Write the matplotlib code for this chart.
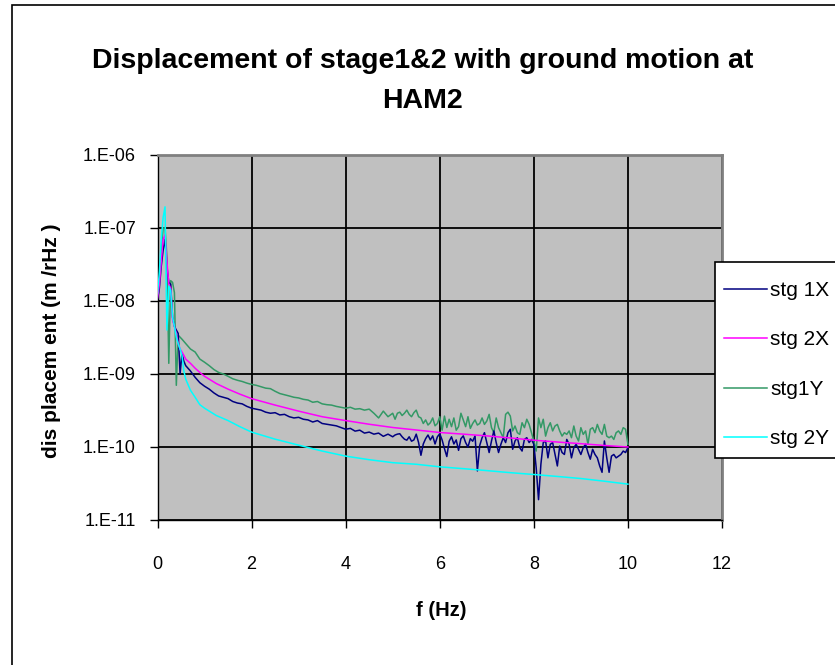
import numpy as np
import matplotlib
matplotlib.use("Agg")
import matplotlib.pyplot as plt
from matplotlib.patches import Rectangle
from matplotlib.ticker import FixedLocator, FuncFormatter

# frequency grids (Hz)
freq_fine = [0.0, 0.04, 0.08, 0.12, 0.16, 0.2, 0.24, 0.28, 0.32, 0.36, 0.4, 0.44, 0.48, 0.52, 0.56, 0.6,
             0.7, 0.8, 0.9, 1.0, 1.1, 1.2, 1.3, 1.4, 1.5, 1.6, 1.7, 1.8, 1.9, 2.0, 2.1, 2.2, 2.3, 2.4,
             2.5, 2.6, 2.7, 2.8, 2.9, 3.0, 3.1, 3.2, 3.3, 3.4, 3.5, 3.6, 3.7, 3.8, 3.9, 4.0, 4.1, 4.2,
             4.3, 4.4, 4.5, 4.6, 4.7, 4.8, 4.9,
             5.0, 5.05, 5.1, 5.15, 5.2, 5.25, 5.3, 5.35, 5.4, 5.45, 5.5, 5.55, 5.6, 5.65, 5.7, 5.75,
             5.8, 5.85, 5.9, 5.95, 6.0, 6.05, 6.1, 6.15, 6.2, 6.25, 6.3, 6.35, 6.4, 6.45, 6.5, 6.55,
             6.6, 6.65, 6.7, 6.75, 6.8, 6.85, 6.9, 6.95, 7.0, 7.05, 7.1, 7.15, 7.2, 7.25, 7.3, 7.35,
             7.4, 7.45, 7.5, 7.55, 7.6, 7.65, 7.7, 7.75, 7.8, 7.85, 7.9, 7.95, 8.0, 8.05, 8.1, 8.15,
             8.2, 8.25, 8.3, 8.35, 8.4, 8.45, 8.5, 8.55, 8.6, 8.65, 8.7, 8.75, 8.8, 8.85, 8.9, 8.95,
             9.0, 9.05, 9.1, 9.15, 9.2, 9.25, 9.3, 9.35, 9.4, 9.45, 9.5, 9.55, 9.6, 9.65, 9.7, 9.75,
             9.8, 9.85, 9.9, 9.95, 10.0]
freq_coarse = [0.0, 0.04, 0.08, 0.12, 0.16, 0.2, 0.24, 0.28, 0.32, 0.36, 0.4, 0.44, 0.48, 0.52, 0.56, 0.6,
               0.7, 0.8, 0.9, 1.0, 1.25, 1.5, 1.75, 2.0, 2.5, 3.0, 3.5, 4.0, 4.5, 5.0, 5.5, 6.0, 6.5,
               7.0, 7.5, 8.0, 8.5, 9.0, 9.5, 10.0]

# displacement, in units of 1e-10 m/rHz
unit = 1e-10
stg1x = [105, 150, 300, 500, 700, 300, 180, 170, 60, 45, 40, 36, 10, 19, 15, 13,
         11, 9.0, 7.6, 6.8, 6.2, 5.5, 5.0, 4.8, 4.6, 4.2, 4.0, 3.9, 3.6, 3.4, 3.3, 3.2, 3.0, 2.9,
         2.95, 2.75, 2.8, 2.6, 2.5, 2.55, 2.4, 2.35, 2.2, 2.3, 2.1, 2.05, 2.0, 1.95, 1.85, 1.75, 1.8,
         1.65, 1.7, 1.55, 1.6, 1.5, 1.55, 1.4, 1.5,
         1.38, 1.46, 1.5, 1.52, 1.38, 1.28, 1.24, 1.38, 1.2, 1.25, 1.5, 1.15, 0.77, 1.1, 1.3, 1.46,
         1.25, 1.42, 1.1, 1.38, 1.52, 1.25, 0.95, 0.74, 1.2, 1.38, 1.1, 1.25, 0.9, 1.3, 1.42, 1.15,
         1.0, 1.3, 1.2, 1.42, 0.47, 1.05, 1.34, 1.57, 1.15, 0.84, 1.21, 1.66, 1.15, 0.84, 1.09, 1.34,
         1.15, 1.57, 1.75, 0.93, 1.21, 1.34, 0.98, 0.88, 1.27, 1.34, 1.15, 1.27, 1.09, 0.52, 0.19, 0.58,
         1.15, 1.21, 0.71, 1.09, 1.15, 0.79, 0.55, 1.03, 0.84, 0.79, 1.27, 1.09, 0.71, 0.98, 1.09, 0.93,
         0.79, 0.98, 1.09, 0.84, 0.68, 0.93, 0.79, 0.71, 0.55, 0.45, 1.21, 0.71, 0.45, 0.75, 0.79, 0.71,
         0.75, 0.79, 0.88, 0.84, 0.98]
stg1y = [90, 200, 500, 1000, 1000, 400, 14, 190, 180, 130, 7, 34, 32, 30, 28, 26,
         22, 20, 16, 14.5, 13, 11.5, 10.5, 10, 9.3, 8.6, 8.2, 7.9, 7.5, 7.2, 7.0, 6.7, 6.4, 6.3,
         5.8, 5.4, 5.2, 5.0, 4.8, 4.7, 4.5, 4.4, 4.1, 4.2, 3.9, 3.8, 3.75, 3.6, 3.5, 3.4, 3.5,
         3.3, 3.35, 3.2, 3.3, 2.9, 2.5, 3.1, 2.6,
         2.9, 2.4, 2.9, 3.0, 2.7, 2.9, 3.2, 2.8, 2.6, 2.95, 3.2, 2.6, 2.5, 2.1, 2.35, 2.0,
         2.15, 2.5, 1.95, 2.1, 2.6, 1.7, 2.65, 1.85, 2.4, 1.9, 2.5, 1.7, 1.9, 2.9, 2.35, 1.9,
         2.6, 1.8, 2.1, 2.35, 2.0, 2.1, 2.5, 2.04, 2.27, 2.8, 1.84, 1.57, 2.5, 1.84, 1.57, 1.34,
         2.8, 3.0, 2.65, 1.66, 1.94, 1.57, 1.49, 2.15, 1.84, 2.4, 2.04, 1.57, 1.21, 0.88, 2.5, 1.84,
         2.4, 1.41, 1.84, 2.15, 1.66, 1.94, 2.04, 1.66, 1.41, 1.57, 1.49, 1.66, 1.34, 1.94, 1.41, 1.21,
         1.84, 1.49, 1.66, 1.09, 1.75, 1.84, 1.57, 2.04, 1.66, 1.49, 2.04, 1.41, 1.34, 1.41, 1.27, 1.57,
         1.66, 1.49, 1.84, 1.75, 1.09]
stg2x = [110, 170, 350, 700, 800, 350, 170, 150, 55, 45, 35, 26, 22, 20, 18, 16,
         14, 12, 10.5, 9.3, 7.4, 6.2, 5.3, 4.6, 3.75, 3.1, 2.6, 2.3, 2.05, 1.85, 1.71, 1.58, 1.5,
         1.42, 1.33, 1.24, 1.17, 1.11, 1.05, 1.0]
stg2y = [126, 250, 700, 1400, 1950, 40, 160, 140, 60, 45, 32, 26, 22, 18, 11, 8.5,
         6.0, 4.8, 3.8, 3.4, 2.7, 2.3, 1.9, 1.6, 1.28, 1.06, 0.88, 0.75, 0.67, 0.61, 0.58, 0.535, 0.505,
         0.475, 0.445, 0.42, 0.395, 0.37, 0.34, 0.31]

labels = ["stg 1X", "stg 2X", "stg1Y", "stg 2Y"]
colors = ["#000080", "#FF00FF", "#339966", "#00FFFF"]

plt.rcParams["font.family"] = ["Liberation Sans", "Arial", "DejaVu Sans"]

W, H = 835, 665
fig = plt.figure(figsize=(W / 100, H / 100), dpi=100)

# chart border
fig.patches.append(Rectangle((12 / W, -0.05), 1.2, 1 - 5 / H + 0.05, transform=fig.transFigure,
                             facecolor="white", edgecolor="black", linewidth=1.2, zorder=-1))

ax = fig.add_axes([157.5 / W, 1 - 520 / H, (722 - 157.5) / W, (520 - 155) / H])
ax.set_facecolor("#C0C0C0")

ax.plot(freq_fine, np.array(stg1x) * unit, color=colors[0], lw=1.1, label=labels[0], zorder=3)
ax.plot(freq_coarse, np.array(stg2x) * unit, color=colors[1], lw=1.1, label=labels[1], zorder=3)
ax.plot(freq_fine, np.array(stg1y) * unit, color=colors[2], lw=1.1, label=labels[2], zorder=2)
ax.plot(freq_coarse, np.array(stg2y) * unit, color=colors[3], lw=1.1, label=labels[3], zorder=4)

ax.set_yscale("log")
ax.set_ylim(1e-11, 1e-6)
ax.set_xlim(0, 12)
ax.xaxis.set_major_locator(FixedLocator([0, 2, 4, 6, 8, 10, 12]))
ax.yaxis.set_major_locator(FixedLocator([1e-11, 1e-10, 1e-9, 1e-8, 1e-7, 1e-6]))
ax.yaxis.set_minor_locator(FixedLocator([]))
ax.yaxis.set_major_formatter(FuncFormatter(lambda v, p: "1.E-%02d" % round(-np.log10(v))))
ax.grid(True, color="black", lw=1.3)
ax.set_axisbelow(True)

ax.tick_params(axis="both", direction="out", length=6, width=1, labelsize=13, color="black")
ax.tick_params(axis="x", pad=20)
ax.tick_params(axis="y", pad=9.5)
for s in ["top", "right"]:
    ax.spines[s].set_color("#808080")
    ax.spines[s].set_linewidth(2)
for s in ["left", "bottom"]:
    ax.spines[s].set_color("black")
    ax.spines[s].set_linewidth(1)

fig.text(423 / W, 1 - 81 / H, "Displacement of stage1&2 with ground motion at\nHAM2",
         ha="center", va="center", fontsize=20.5, fontweight="bold", linespacing=1.7)
fig.text(52 / W, 1 - 341 / H, "dis placem ent (m /rHz )", rotation=90, ha="center", va="center",
         fontsize=15, fontweight="bold")
fig.text(441 / W, 1 - 610 / H, "f (Hz)", ha="center", va="center", fontsize=14.5, fontweight="bold")

# legend box drawn separately so the padding can match
fig.patches.append(Rectangle((715 / W, 1 - 458 / H), 0.3, (458 - 262) / H, transform=fig.transFigure,
                             facecolor="white", edgecolor="black", linewidth=1.2, zorder=5))
leg = fig.legend(loc="upper left", bbox_to_anchor=(724 / W, 1 - 281 / H), borderaxespad=0,
                 fontsize=15, frameon=False, handlelength=2.07, handletextpad=0.15,
                 labelspacing=1.46, borderpad=0)
leg.set_zorder(6)
for line in leg.get_lines():
    line.set_linewidth(1.1)

fig.savefig("out.png", dpi=100)
